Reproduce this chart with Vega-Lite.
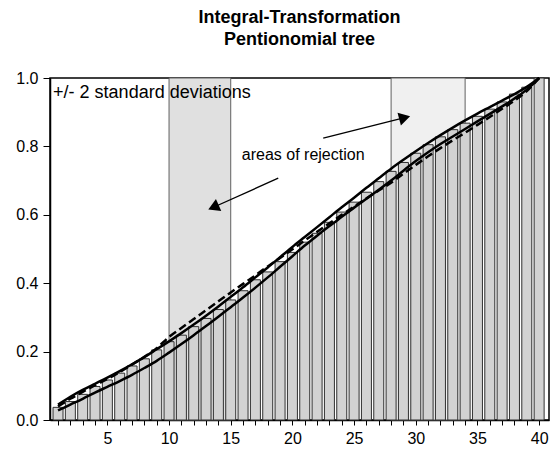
{
  "$schema": "https://vega.github.io/schema/vega-lite/v6.json",
  "width": 499,
  "height": 342,
  "autosize": "none",
  "padding": {"left": 50, "top": 78, "right": 4, "bottom": 33},
  "background": "white",
  "config": {
    "view": {"stroke": "black", "strokeWidth": 1.5},
    "font": "Liberation Sans",
    "scale": {"continuousPadding": 0},
    "axis": {"grid": false, "domainColor": "black", "tickColor": "black", "labelColor": "black", "labelFont": "Liberation Sans", "labelFontSize": 16, "title": null, "labelOverlap": false}
  },
  "title": {
    "text": ["Integral-Transformation", "Pentionomial tree"],
    "font": "Liberation Sans",
    "fontSize": 18,
    "fontWeight": "bold",
    "color": "black",
    "anchor": "middle",
    "offset": 21,
    "lineHeight": 22
  },
  "datasets": {
    "main": [
      {"x": 1, "bar": 0.037, "upper": 0.045, "lower": 0.028, "expected": 0.04},
      {"x": 2, "bar": 0.054, "upper": 0.068, "lower": 0.045, "expected": 0.062},
      {"x": 3, "bar": 0.075, "upper": 0.088, "lower": 0.062, "expected": 0.082},
      {"x": 4, "bar": 0.098, "upper": 0.106, "lower": 0.08, "expected": 0.102},
      {"x": 5, "bar": 0.117, "upper": 0.124, "lower": 0.097, "expected": 0.12},
      {"x": 6, "bar": 0.137, "upper": 0.143, "lower": 0.114, "expected": 0.14},
      {"x": 7, "bar": 0.158, "upper": 0.163, "lower": 0.132, "expected": 0.162},
      {"x": 8, "bar": 0.179, "upper": 0.184, "lower": 0.152, "expected": 0.185},
      {"x": 9, "bar": 0.205, "upper": 0.207, "lower": 0.173, "expected": 0.21},
      {"x": 10, "bar": 0.229, "upper": 0.23, "lower": 0.197, "expected": 0.243},
      {"x": 11, "bar": 0.248, "upper": 0.254, "lower": 0.222, "expected": 0.269},
      {"x": 12, "bar": 0.273, "upper": 0.279, "lower": 0.248, "expected": 0.295},
      {"x": 13, "bar": 0.297, "upper": 0.305, "lower": 0.275, "expected": 0.321},
      {"x": 14, "bar": 0.323, "upper": 0.332, "lower": 0.302, "expected": 0.347},
      {"x": 15, "bar": 0.351, "upper": 0.36, "lower": 0.33, "expected": 0.373},
      {"x": 16, "bar": 0.378, "upper": 0.388, "lower": 0.358, "expected": 0.398},
      {"x": 17, "bar": 0.41, "upper": 0.417, "lower": 0.387, "expected": 0.423},
      {"x": 18, "bar": 0.433, "upper": 0.446, "lower": 0.417, "expected": 0.449},
      {"x": 19, "bar": 0.463, "upper": 0.476, "lower": 0.448, "expected": 0.474},
      {"x": 20, "bar": 0.49, "upper": 0.506, "lower": 0.479, "expected": 0.499},
      {"x": 21, "bar": 0.52, "upper": 0.535, "lower": 0.51, "expected": 0.525},
      {"x": 22, "bar": 0.546, "upper": 0.564, "lower": 0.539, "expected": 0.55},
      {"x": 23, "bar": 0.578, "upper": 0.593, "lower": 0.567, "expected": 0.575},
      {"x": 24, "bar": 0.608, "upper": 0.622, "lower": 0.594, "expected": 0.6},
      {"x": 25, "bar": 0.637, "upper": 0.65, "lower": 0.621, "expected": 0.624},
      {"x": 26, "bar": 0.666, "upper": 0.679, "lower": 0.647, "expected": 0.648},
      {"x": 27, "bar": 0.697, "upper": 0.707, "lower": 0.673, "expected": 0.671},
      {"x": 28, "bar": 0.727, "upper": 0.735, "lower": 0.7, "expected": 0.694},
      {"x": 29, "bar": 0.753, "upper": 0.761, "lower": 0.729, "expected": 0.72},
      {"x": 30, "bar": 0.78, "upper": 0.786, "lower": 0.757, "expected": 0.746},
      {"x": 31, "bar": 0.805, "upper": 0.81, "lower": 0.783, "expected": 0.771},
      {"x": 32, "bar": 0.828, "upper": 0.833, "lower": 0.807, "expected": 0.795},
      {"x": 33, "bar": 0.849, "upper": 0.855, "lower": 0.829, "expected": 0.818},
      {"x": 34, "bar": 0.868, "upper": 0.876, "lower": 0.851, "expected": 0.84},
      {"x": 35, "bar": 0.888, "upper": 0.896, "lower": 0.873, "expected": 0.863},
      {"x": 36, "bar": 0.909, "upper": 0.915, "lower": 0.895, "expected": 0.886},
      {"x": 37, "bar": 0.93, "upper": 0.934, "lower": 0.917, "expected": 0.91},
      {"x": 38, "bar": 0.953, "upper": 0.953, "lower": 0.94, "expected": 0.934},
      {"x": 39, "bar": 0.973, "upper": 0.974, "lower": 0.966, "expected": 0.962},
      {"x": 40, "bar": 1.0, "upper": 1.0, "lower": 1.0, "expected": 1.0}
    ],
    "regions": [
      {"start": 10, "end": 15, "shade": "dark"},
      {"start": 28, "end": 34, "shade": "light"}
    ],
    "notes": [
      {"x": 0.6, "y": 0.957, "label": "+/- 2 standard deviations", "kind": "big"},
      {"x": 15.9, "y": 0.775, "label": "areas of rejection", "kind": "small"}
    ],
    "arrows": [
      {"x": 22.5, "y": 0.824, "xe": 29.1, "ye": 0.884, "angle": 75},
      {"x": 18.85, "y": 0.707, "xe": 13.6, "ye": 0.622, "angle": 246}
    ]
  },
  "layer": [
    {
      "data": {"name": "regions"},
      "mark": {"type": "rect", "stroke": "#606060", "strokeWidth": 1},
      "encoding": {
        "x": {"field": "start", "type": "quantitative", "scale": {"domain": [0.35, 40.8], "nice": false, "zero": false, "padding": 0},
          "axis": {"values": [1,2,3,4,5,6,7,8,9,10,11,12,13,14,15,16,17,18,19,20,21,22,23,24,25,26,27,28,29,30,31,32,33,34,35,36,37,38,39,40],
            "tickCount": 100, "format": "d",
            "labelExpr": "datum.value % 5 === 0 ? datum.label : ''", "tickSize": 5, "labelPadding": 5, "domainWidth": 1.5, "labelOverlap": false, "labelFlush": false}},
        "x2": {"field": "end"},
        "color": {"field": "shade", "type": "nominal", "scale": {"domain": ["dark", "light"], "range": ["#e0e0e0", "#f0f0f0"]}, "legend": null}
      }
    },
    {
      "data": {"name": "main"},
      "mark": {"type": "bar", "width": 10, "fill": "#d2d2d2", "stroke": "#303030", "strokeWidth": 1},
      "encoding": {
        "x": {"field": "x", "type": "quantitative"},
        "y": {"field": "bar", "type": "quantitative", "scale": {"domain": [0, 1], "nice": false, "padding": 0},
          "axis": {"values": [0, 0.2, 0.4, 0.6, 0.8, 1.0], "format": ".1f", "tickSize": 7, "labelPadding": 5, "domainWidth": 1.5}}
      }
    },
    {
      "data": {"name": "main"},
      "mark": {"type": "line", "color": "black", "strokeWidth": 2.5, "interpolate": "monotone"},
      "encoding": {"x": {"field": "x", "type": "quantitative"}, "y": {"field": "upper", "type": "quantitative"}}
    },
    {
      "data": {"name": "main"},
      "mark": {"type": "line", "color": "black", "strokeWidth": 2.5, "interpolate": "monotone"},
      "encoding": {"x": {"field": "x", "type": "quantitative"}, "y": {"field": "lower", "type": "quantitative"}}
    },
    {
      "data": {"name": "main"},
      "mark": {"type": "line", "color": "black", "strokeWidth": 2.5, "strokeDash": [8, 4], "interpolate": "monotone"},
      "encoding": {"x": {"field": "x", "type": "quantitative"}, "y": {"field": "expected", "type": "quantitative"}}
    },
    {
      "data": {"name": "notes"},
      "transform": [{"filter": "datum.kind === 'big'"}],
      "mark": {"type": "text", "align": "left", "baseline": "middle", "fontSize": 18, "font": "Liberation Sans", "color": "black"},
      "encoding": {"x": {"field": "x", "type": "quantitative"}, "y": {"field": "y", "type": "quantitative"}, "text": {"field": "label"}}
    },
    {
      "data": {"name": "notes"},
      "transform": [{"filter": "datum.kind === 'small'"}],
      "mark": {"type": "text", "align": "left", "baseline": "middle", "fontSize": 16, "font": "Liberation Sans", "color": "black"},
      "encoding": {"x": {"field": "x", "type": "quantitative"}, "y": {"field": "y", "type": "quantitative"}, "text": {"field": "label"}}
    },
    {
      "data": {"name": "arrows"},
      "mark": {"type": "rule", "color": "black", "strokeWidth": 1.3},
      "encoding": {
        "x": {"field": "x", "type": "quantitative"}, "y": {"field": "y", "type": "quantitative"},
        "x2": {"field": "xe"}, "y2": {"field": "ye"}
      }
    },
    {
      "data": {"name": "arrows"},
      "mark": {"type": "point", "shape": "triangle-up", "filled": true, "color": "black", "size": 170, "opacity": 1},
      "encoding": {
        "x": {"field": "xe", "type": "quantitative"}, "y": {"field": "ye", "type": "quantitative"},
        "angle": {"field": "angle", "type": "quantitative", "scale": null}
      }
    }
  ]
}
